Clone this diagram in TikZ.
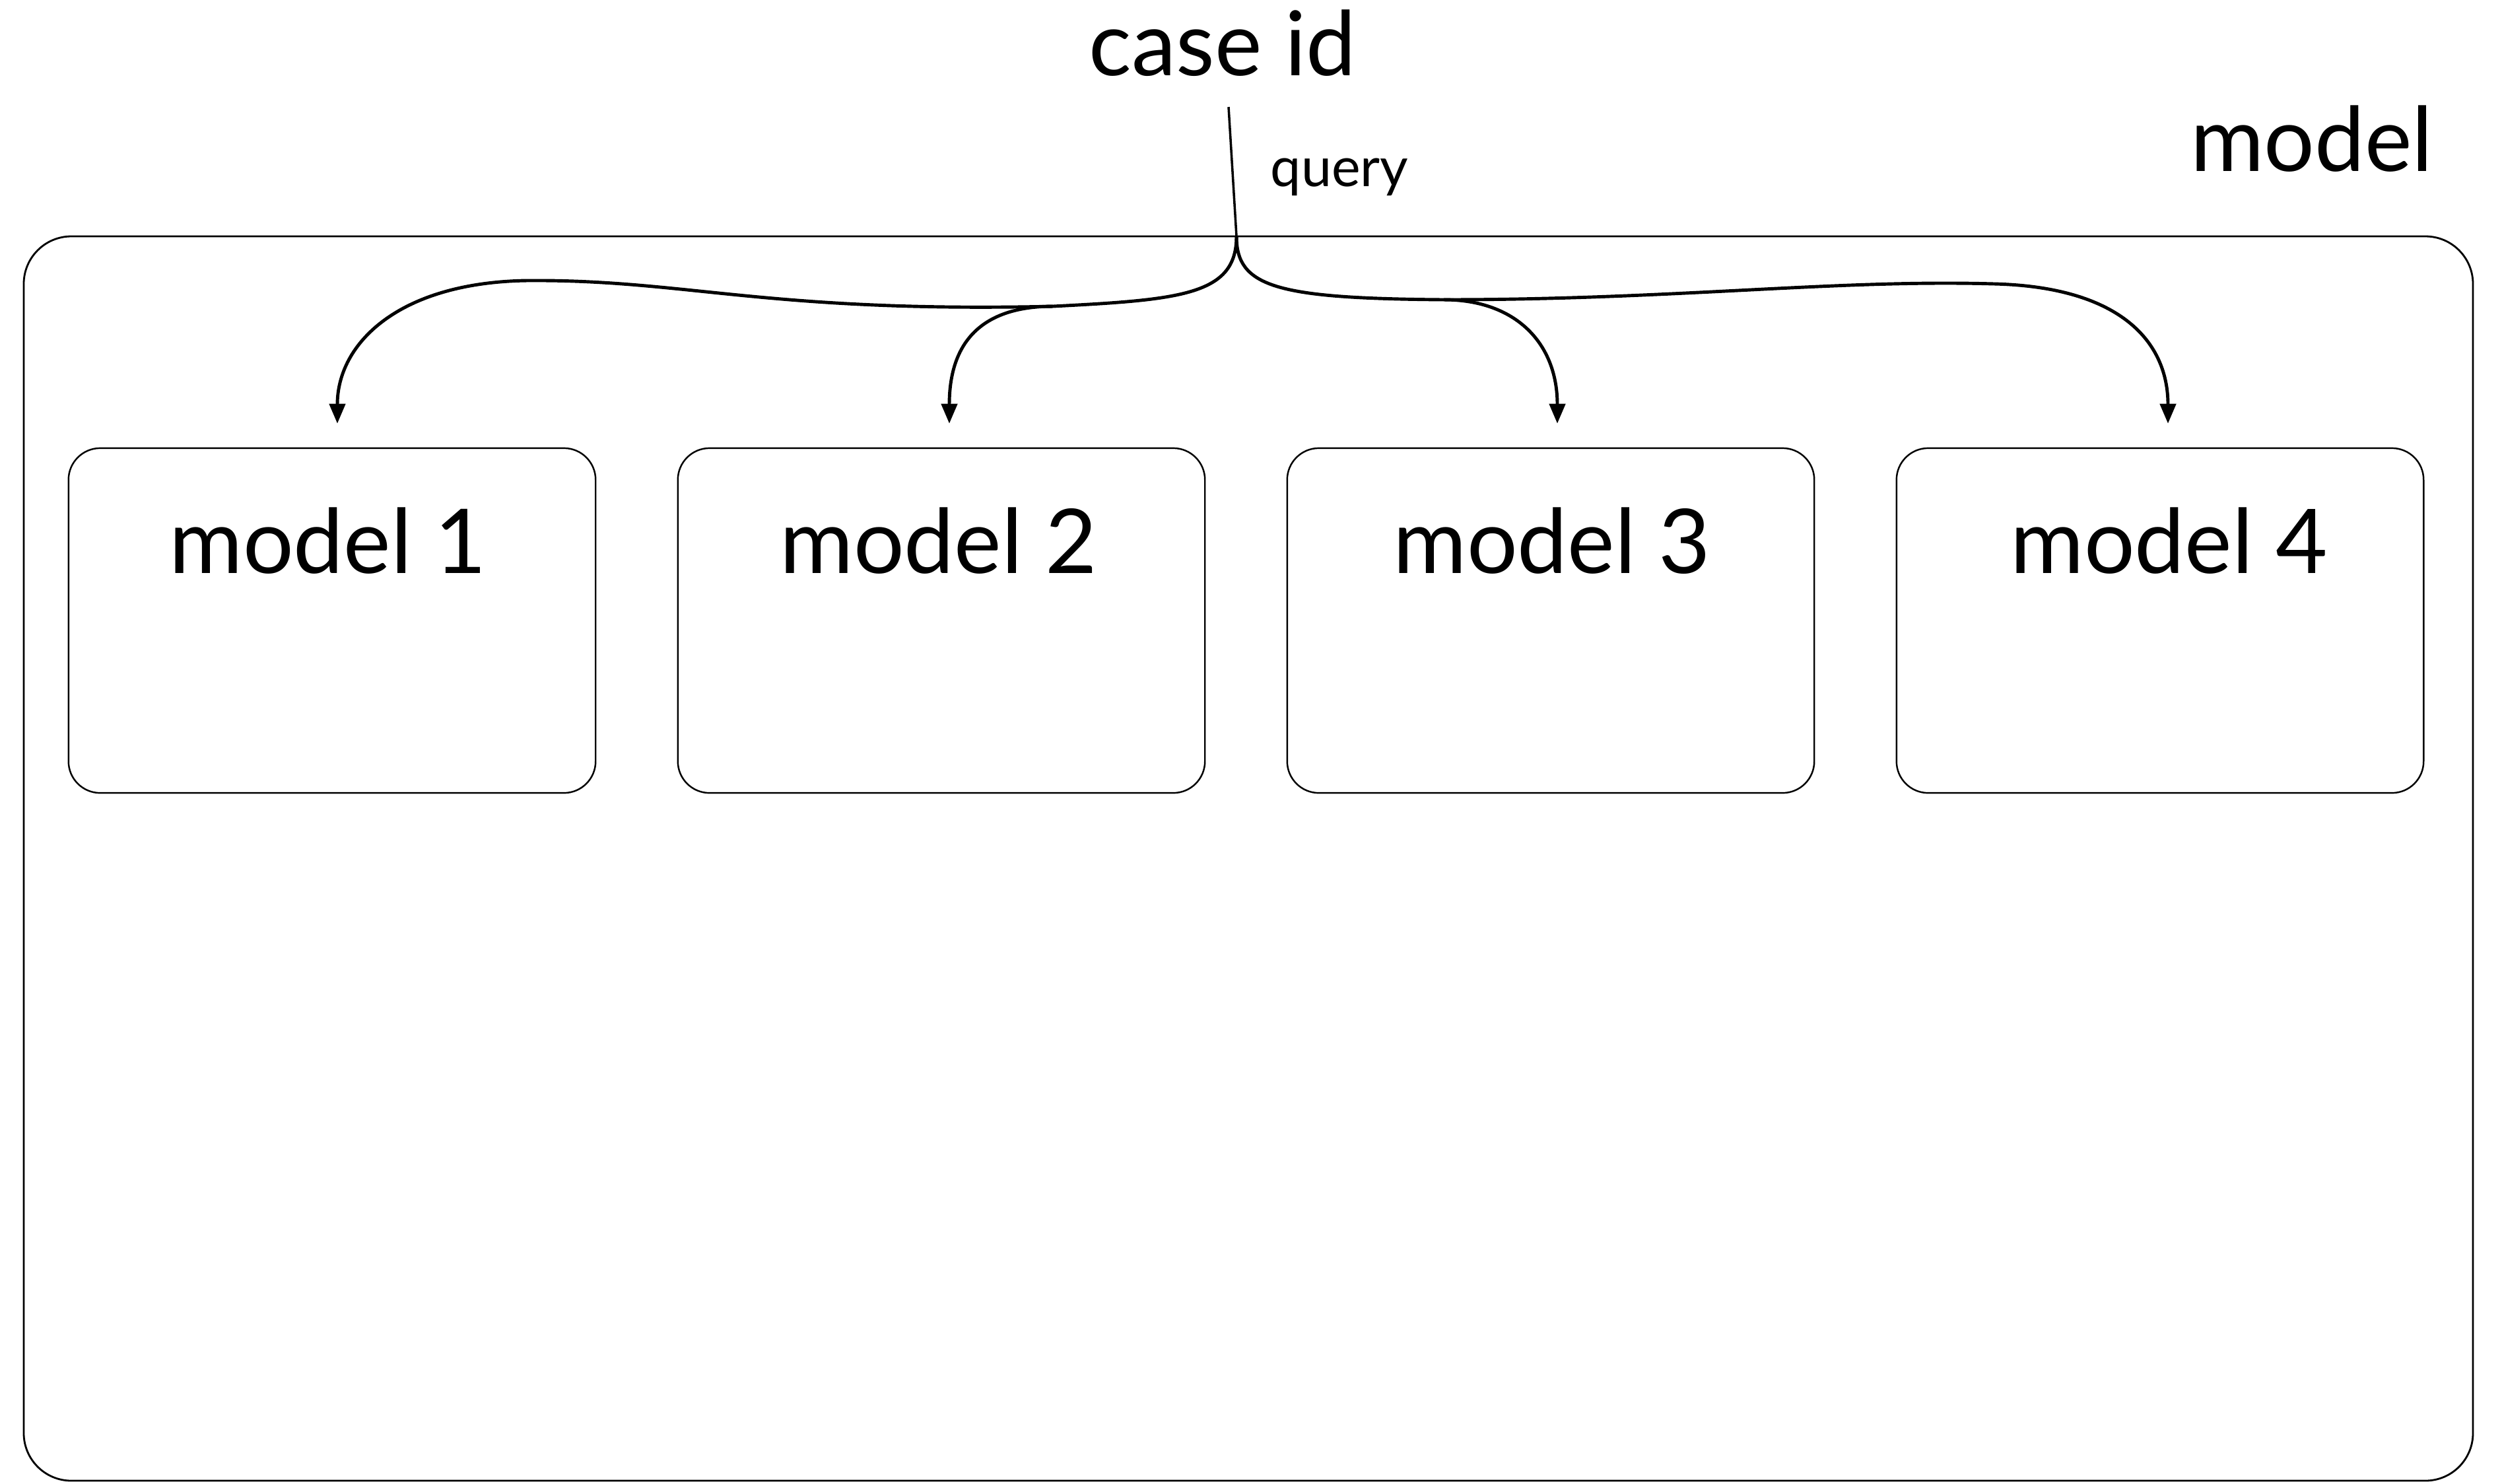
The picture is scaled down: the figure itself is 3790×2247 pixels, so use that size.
\documentclass[tikz,border=0pt]{standalone}
\usepackage{fontspec}
\setmainfont{Lato}
\usetikzlibrary{arrows.meta}
\begin{document}
\begin{tikzpicture}[x=0.01cm,y=-0.01cm,
  outerbox/.style={draw,line width=0.8pt,rounded corners=0.72cm},
  modelbox/.style={draw,line width=0.7pt,rounded corners=0.48cm,minimum width=7.98cm,minimum height=5.22cm,inner sep=0pt},
  bigtext/.style={font=\fontsize{38.5}{42}\selectfont,inner sep=0pt},
  smalltext/.style={font=\fontsize{23.5}{27}\selectfont,inner sep=0pt},
  flowarrow/.style={line width=1.4pt,-{Triangle[length=0.3cm,width=0.24cm]},shorten >=0.36cm}]
\useasboundingbox (0,0) rectangle (3790,2247);
\draw[outerbox] (36,358) rectangle (3746,2243);
\node[bigtext,anchor=base] (caseid) at (1852,114) {case id};
\node[bigtext,anchor=base] (modellbl) at (3502,259) {model};
\node[smalltext,anchor=base west] (query) at (1924,282) {query};
\node[modelbox] (m1) at (503,940) {};
\node[modelbox] (m2) at (1426,940) {};
\node[modelbox] (m3) at (2349,940) {};
\node[modelbox] (m4) at (3272,940) {};
\node[bigtext,anchor=base] (t1) at ([xshift=-0.06cm,yshift=-1.91cm]m1.north) {model 1};
\node[bigtext,anchor=base] (t2) at ([xshift=-0.04cm,yshift=-1.91cm]m2.north) {model 2};
\node[bigtext,anchor=base] (t3) at ([xshift=0.02cm,yshift=-1.91cm]m3.north) {model 3};
\node[bigtext,anchor=base] (t4) at ([xshift=0.14cm,yshift=-1.91cm]m4.north) {model 4};
\coordinate (top) at (1861,162);
\coordinate (S) at (1873,358);
\coordinate (J2) at (1595,464);
\coordinate (J3) at (2187,454);
\coordinate (e1) at ([xshift=0.08cm]m1.north);
\coordinate (e2) at ([xshift=0.12cm]m2.north);
\coordinate (e3) at ([xshift=0.1cm]m3.north);
\coordinate (e4) at ([xshift=0.12cm]m4.north);
\draw[line width=1pt] (top) -- (S);
\draw[flowarrow] (S) .. controls (1873,447) and (1789,454) .. (J2)
  .. controls (1160,474) and (1039,423) .. (798,425)
  .. controls (604,428) and (511,520) .. (e1);
\draw[flowarrow] (J2) .. controls (1474,464) and (1438,532) .. (e2);
\draw[flowarrow] (S) .. controls (1873,435) and (1934,452) .. (J3)
  .. controls (2538,454) and (2779,423) .. (3021,430)
  .. controls (3215,435) and (3284,520) .. (e4);
\draw[flowarrow] (J3) .. controls (2296,454) and (2359,520) .. (e3);
\end{tikzpicture}
\end{document}
